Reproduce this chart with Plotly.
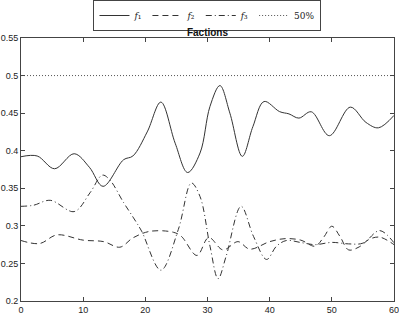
import plotly.graph_objects as go

t1 = [0, 2.6, 5.4, 8.55, 11, 13.2, 16.5, 18, 20.3, 22.5, 24.8, 26.8, 28.8, 30.4, 32, 33.6, 35.6, 37.3, 39.1, 41.6, 43.1, 44.7, 46.7, 49.6, 52.97, 55.5, 57.5, 60]
f1 = [0.392, 0.393, 0.376, 0.396, 0.378, 0.3526, 0.388, 0.393, 0.425, 0.4647, 0.41, 0.371, 0.397, 0.459, 0.4867, 0.45, 0.3925, 0.432, 0.4655, 0.452, 0.449, 0.4434, 0.4518, 0.420, 0.458, 0.4376, 0.4305, 0.447]

t2 = [0, 3, 5.8, 10, 13.3, 15.9, 18, 20.8, 24.5, 25.8, 28.3, 30.2, 32.5, 34.9, 36.8, 40, 42.5, 45, 47.3, 48.7, 50, 51.3, 52.7, 54.4, 56, 57.7, 60]
f2 = [0.2805, 0.2765, 0.288, 0.281, 0.279, 0.2716, 0.284, 0.2928, 0.2915, 0.286, 0.2606, 0.2845, 0.268, 0.279, 0.269, 0.279, 0.283, 0.281, 0.273, 0.285, 0.2995, 0.286, 0.268, 0.272, 0.282, 0.285, 0.275]

t3 = [0, 2, 4.7, 8.55, 11.1, 13.1, 14.3, 16.5, 18.1, 19.4, 22.5, 25.3, 27.4, 28.8, 30.4, 31.7, 33, 35.4, 37.4, 39.5, 41.1, 42.7, 44.9, 47.3, 50, 52.7, 55, 57.7, 60]
f3 = [0.326, 0.3274, 0.334, 0.319, 0.344, 0.3675, 0.361, 0.331, 0.3106, 0.293, 0.241, 0.295, 0.357, 0.339, 0.273, 0.2297, 0.2597, 0.326, 0.286, 0.2553, 0.273, 0.2805, 0.278, 0.275, 0.278, 0.276, 0.277, 0.2937, 0.2774]

ref_t = [0, 60]
ref_v = [0.5, 0.5]

x_ticks = [0, 10, 20, 30, 40, 50, 60]
y_ticks = [0.2, 0.25, 0.3, 0.35, 0.4, 0.45, 0.5, 0.55]
y_labels = ["0.2", "0.25", "0.3", "0.35", "0.4", "0.45", "0.5", "0.55"]
names = ["<i>f</i>\u2081", "<i>f</i>\u2082", "<i>f</i>\u2083", "50%"]

col = "#333333"
fig = go.Figure()
fig.add_trace(go.Scatter(x=t1, y=f1, mode="lines", name=names[0],
                         line=dict(color=col, width=1, shape="spline", smoothing=1)))
fig.add_trace(go.Scatter(x=t2, y=f2, mode="lines", name=names[1],
                         line=dict(color=col, width=1, dash="6px,4px", shape="spline", smoothing=1)))
fig.add_trace(go.Scatter(x=t3, y=f3, mode="lines", name=names[2],
                         line=dict(color=col, width=1, dash="6px,3px,1px,3px", shape="spline", smoothing=1)))
fig.add_trace(go.Scatter(x=ref_t, y=ref_v, mode="lines", name=names[3],
                         line=dict(color="#555555", width=1, dash="1px,2px")))

axis_common = dict(showgrid=False, zeroline=False, mirror="ticks", ticks="inside",
                   ticklen=4, tickcolor="#444", linecolor="#444", linewidth=1, showline=True,
                   automargin=False, ticklabeloverflow="allow",
                   tickfont=dict(family="Liberation Sans, Arial", size=9, color="#222"))
fig.update_xaxes(range=[0, 60], tickvals=x_ticks, **axis_common)
fig.update_yaxes(range=[0.2, 0.55], tickvals=y_ticks, ticktext=y_labels, **axis_common)

fig.update_layout(
    width=399, height=315,
    margin=dict(l=21, r=5, t=38, b=14, autoexpand=False),
    paper_bgcolor="white", plot_bgcolor="white",
    title=dict(text="<b>Factions</b>", x=0.52, xanchor="center", y=1 - 32 / 315, yanchor="middle",
               yref="container", font=dict(family="Liberation Sans, Arial", size=10, color="#111")),
    showlegend=True,
    legend=dict(orientation="h", x=0.52, xanchor="center", xref="container",
                y=1.0, yanchor="top", yref="container",
                bordercolor="#444", borderwidth=1, bgcolor="white",
                font=dict(family="DejaVu Serif, Liberation Serif", size=9, color="#222"),
                itemwidth=30, tracegroupgap=0),
)

fig.write_html("out.html", config={"displayModeBar": False},
               post_script="document.body.style.margin='0';document.body.style.padding='0';")
